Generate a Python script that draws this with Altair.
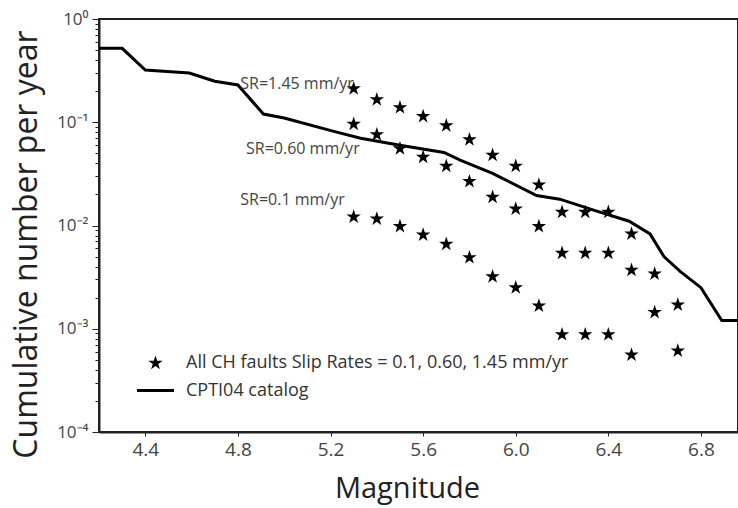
import altair as alt
import pandas as pd

# ---- data ----
mags = [5.3, 5.4, 5.5, 5.6, 5.7, 5.8, 5.9, 6.0, 6.1, 6.2, 6.3, 6.4, 6.5, 6.6, 6.7]
sr145 = [0.212, 0.166, 0.139, 0.114, 0.093, 0.068, 0.048, 0.0377, 0.0248,
         0.0135, 0.0135, 0.0135, 0.0083, 0.0034, 0.0017]
sr060 = [0.096, 0.076, 0.0556, 0.046, 0.0377, 0.0267, 0.0188, 0.0145, 0.0098,
         0.0054, 0.0054, 0.0054, 0.0037, 0.00144, 0.00061]
sr010 = [0.0121, 0.0116, 0.0098, 0.0081, 0.0066, 0.0049, 0.0032, 0.0025,
         0.00167, 0.00088, 0.00088, 0.00088, 0.00056]

cat_m = [4.20, 4.30, 4.40, 4.59, 4.70, 4.80, 4.91, 5.00, 5.21, 5.33, 5.50,
         5.69, 5.76, 5.90, 6.09, 6.19, 6.34, 6.49, 6.58, 6.64, 6.71, 6.80,
         6.89, 6.96]
cat_n = [0.52, 0.52, 0.32, 0.30, 0.25, 0.23, 0.12, 0.11, 0.082, 0.070, 0.060,
         0.051, 0.043, 0.032, 0.0195, 0.018, 0.014, 0.011, 0.0083, 0.0050,
         0.0036, 0.0025, 0.0012, 0.0012]

ann_text = ["SR=1.45 mm/yr", "SR=0.60 mm/yr", "SR=0.1 mm/yr"]
ann_m = [4.81, 4.835, 4.81]
ann_n = [0.235, 0.055, 0.0178]

x_ticks = [4.4, 4.8, 5.2, 5.6, 6.0, 6.4, 6.8]

LEG_STAR = "All CH faults Slip Rates = 0.1, 0.60, 1.45 mm/yr"
LEG_LINE = "CPTI04 catalog"

FONT = "Open Sans"
STAR = ("M0,-1L0.2245,-0.309L0.951,-0.309L0.363,0.118L0.588,0.809L0,0.382"
        "L-0.588,0.809L-0.363,0.118L-0.951,-0.309L-0.2245,-0.309Z")
BAR = "M-1,-0.085L1,-0.085L1,0.085L-1,0.085Z"

# ---- tables ----
rows = []
for name, vals in [("1.45", sr145), ("0.60", sr060), ("0.1", sr010)]:
    for m, v in zip(mags, vals):
        rows.append({"M": m, "N": v, "sr": name, "leg": LEG_STAR})
stars = pd.DataFrame(rows)
cat = pd.DataFrame({"M": cat_m, "N": cat_n})
ann = pd.DataFrame({"M": ann_m, "N": ann_n, "t": ann_text})

y_vals = [1.0] + [d * 10 ** k for k in range(-4, 0) for d in range(1, 10)]
L = "log(datum.value)/LN10"
label_expr = (
    f"abs({L} - round({L})) > 0.001 ? '' : '10' + "
    f"(round({L}) == 0 ? '⁰' : round({L}) == -1 ? '⁻¹' : "
    f"round({L}) == -2 ? '⁻²' : round({L}) == -3 ? '⁻³' : '⁻⁴')"
)

xs = alt.Scale(domain=[4.2, 6.96], nice=False, zero=False)
ys = alt.Scale(type="log", domain=[1e-4, 1], nice=False)

x_enc = alt.X("M:Q", scale=xs, axis=alt.Axis(
    values=x_ticks, format=".1f", title="Magnitude", grid=False,
    labelFontSize=19, labelColor="#444", labelFont=FONT, labelPadding=4,
    tickSize=4, tickColor="#222", domainColor="#222", domainWidth=2,
    titleFontSize=29, titleFont=FONT, titleColor="#222", titleFontWeight="normal",
    titleBaseline="alphabetic", titleY=65, titleX=308))
y_enc = alt.Y("N:Q", scale=ys, axis=alt.Axis(
    values=y_vals, labelExpr=label_expr, title="Cumulative number per year",
    grid=False, labelFontSize=17, labelColor="#444", labelFont=FONT,
    labelPadding=4, tickColor="#222", domainColor="#222", domainWidth=2,
    tickSize={"condition": {"test": f"abs({L} - round({L})) < 0.001", "value": 7}, "value": 4},
    titleFontSize=32, titleFont=FONT, titleColor="#222", titleFontWeight="normal",
    titleBaseline="middle", titleX=-73, titleY=225))

line = alt.Chart(cat).mark_line(color="black", strokeWidth=3).encode(x=x_enc, y=y_enc)

dom = [LEG_STAR, LEG_LINE]
leg = alt.Legend(orient="none", legendX=38, legendY=335, title=None,
                 labelFontSize=18, labelFont=FONT, labelColor="#333", labelLimit=0,
                 labelOffset=12, rowPadding=-1,
                 symbolFillColor="black", symbolStrokeWidth=0)
pts = alt.Chart(stars).mark_point(filled=True, color="black", strokeWidth=0, opacity=1).encode(
    x="M:Q", y="N:Q",
    shape=alt.Shape("leg:N", scale=alt.Scale(domain=dom, range=[STAR, BAR]), legend=leg),
    size=alt.Size("leg:N", scale=alt.Scale(domain=dom, range=[230, 1369]), legend=leg),
)

txt = alt.Chart(ann).mark_text(align="left", baseline="middle", fontSize=16,
                               font=FONT, color="#444").encode(
    x="M:Q", y="N:Q", text="t:N")

chart = alt.layer(line, pts, txt).properties(
    width=639, height=413,
    background="white",
    autosize=alt.AutoSizeParams(type="none"),
    padding={"left": 99, "top": 19, "right": 0, "bottom": 76},
).configure_view(stroke="#222", strokeWidth=2)

chart.save("out.html", embed_options={"renderer": "svg", "actions": False})
